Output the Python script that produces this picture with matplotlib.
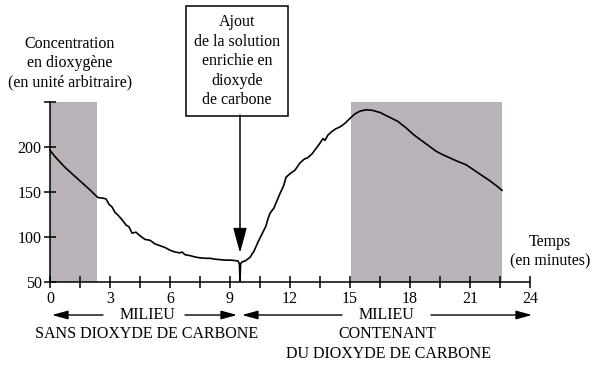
# Concentration en dioxygène - ajout de CO2
import numpy as np
import matplotlib
matplotlib.use("Agg")
import matplotlib.pyplot as plt

plt.rcParams['font.family'] = ['Liberation Serif', 'DejaVu Serif']

temps = [0, 0.25, 0.5, 0.75, 1.0, 1.25, 1.5, 1.75, 2.0, 2.25, 2.4, 2.6, 2.8, 2.95,
         3.1, 3.25, 3.4, 3.6, 3.8, 3.95, 4.1, 4.3, 4.5, 4.75, 5.0, 5.25, 5.5, 5.75,
         6.0, 6.25, 6.5, 6.6, 6.75, 7.0, 7.25, 7.5, 7.75, 8.0, 8.25, 8.5, 8.75, 9.0,
         9.25, 9.4, 9.47, 9.5, 9.53, 9.6, 9.75, 10.0, 10.2, 10.4, 10.6, 10.8, 10.9,
         11.0, 11.2, 11.35, 11.5, 11.65, 11.7, 11.8, 12.0, 12.25, 12.5, 12.7, 12.9,
         13.1, 13.3, 13.5, 13.65, 13.75, 13.9, 14.1, 14.3, 14.5, 14.75, 15.0, 15.25,
         15.5, 15.8, 16.1, 16.5, 17.0, 17.4, 17.8, 18.2, 18.6, 19.0, 19.3, 19.6,
         20.0, 20.4, 20.8, 21.2, 21.6, 22.0, 22.3, 22.6]
oxygene = [196, 189, 183, 177, 172, 167, 162, 157, 152, 146.5, 143.5, 143, 142, 136,
           133, 127, 124, 119, 113, 111, 104, 105, 101, 97, 96, 92, 90, 88,
           85, 83, 82, 83, 80, 79, 77.5, 76.5, 76, 76, 75, 74.5, 74, 74,
           73.5, 73, 70, 50, 70, 72, 73, 77, 84, 94, 103, 112, 120,
           126, 132, 140, 148, 155, 158, 166, 170, 174, 182, 186, 188,
           192, 198, 204, 209, 207, 213, 217, 220, 222, 226, 231.5, 236.5,
           239.5, 241, 240.5, 238, 232.5, 228, 221, 213, 206.5, 200, 195, 191.5,
           187.5, 183.5, 180, 174, 168, 162, 157, 151.5]

zones_eclairees = [(0, 2.33), (15.05, 22.6)]
xticks_major = [0, 3, 6, 9, 12, 15, 18, 21, 24]
yticks = [50, 100, 150, 200, 250]
ytick_labels = ["50", "100", "150", "200", ""]
t_ajout = 9.5

fs = 11.5
fig = plt.figure(figsize=(6, 3.72), dpi=100)
ax = fig.add_axes([50 / 600, 1 - 281.7 / 372, 480 / 600, 180 / 372])

for a, b in zones_eclairees:
    ax.axvspan(a, b, ymin=0, ymax=1, color='#b9b2b9', lw=0, zorder=0)

ax.plot(temps, oxygene, color='black', lw=1.2, zorder=3, clip_on=False)

ax.set_xlim(0, 24)
ax.set_ylim(50, 250)
ax.spines['top'].set_visible(False)
ax.spines['right'].set_visible(False)
for s in ['left', 'bottom']:
    ax.spines[s].set_linewidth(1.1)
    ax.spines[s].set_zorder(4)

ax.set_xticks(xticks_major)
ax.set_xticks(np.arange(1.5, 24, 3), minor=True)
ax.set_yticks(yticks)
ax.set_yticklabels(ytick_labels)
ax.tick_params(axis='both', which='both', direction='inout', length=8, width=1.1,
               labelsize=fs, colors='black')
ax.tick_params(axis='x', pad=3)
ax.tick_params(axis='y', pad=2)

# axis titles
ax.text(1.0, 293, "Concentration\nen dioxygène\n(en unité arbitraire)", ha='center',
        va='center', fontsize=fs, linespacing=1.27, clip_on=False)
ax.text(25.0, 83, "Temps\n(en minutes)", ha='center', va='center', fontsize=fs,
        linespacing=1.27, clip_on=False)

# box + arrow
ax.text(9.35, 295, "Ajout\nde la solution\nenrichie en\ndioxyde\nde carbone",
        ha='center', va='center', fontsize=fs, linespacing=1.3, clip_on=False,
        bbox=dict(boxstyle='square,pad=0.5', fc='white', ec='black', lw=1.1))
ax.annotate("", xy=(t_ajout, 82), xytext=(t_ajout, 235), annotation_clip=False,
            arrowprops=dict(arrowstyle='-|>,head_length=1.1,head_width=0.3',
                            mutation_scale=14, color='black', lw=1.1,
                            shrinkA=0, shrinkB=0))

# bottom arrows & labels
y_fl = 13
fleches = [(2.65, 0.1), (6.75, 9.35), (14.6, 9.6), (19.05, 24.1)]
for x0, x1 in fleches:
    ax.annotate("", xy=(x1, y_fl), xytext=(x0, y_fl), annotation_clip=False,
                arrowprops=dict(arrowstyle='-|>,head_length=0.8,head_width=0.22',
                                mutation_scale=12, color='black', lw=1.0,
                                shrinkA=0, shrinkB=0))
ax.text(4.85, y_fl, "MILIEU", ha='center', va='center', fontsize=fs, clip_on=False)
ax.text(16.8, y_fl, "MILIEU", ha='center', va='center', fontsize=fs, clip_on=False)
ax.text(4.85, -8, "SANS DIOXYDE DE CARBONE", ha='center', va='center',
        fontsize=fs, clip_on=False)
ax.text(16.85, -8, "CONTENANT", ha='center', va='center', fontsize=fs, clip_on=False)
ax.text(16.9, -30, "DU DIOXYDE DE CARBONE", ha='center', va='center',
        fontsize=fs, clip_on=False)

fig.savefig("out.png", dpi=100, facecolor='white')
